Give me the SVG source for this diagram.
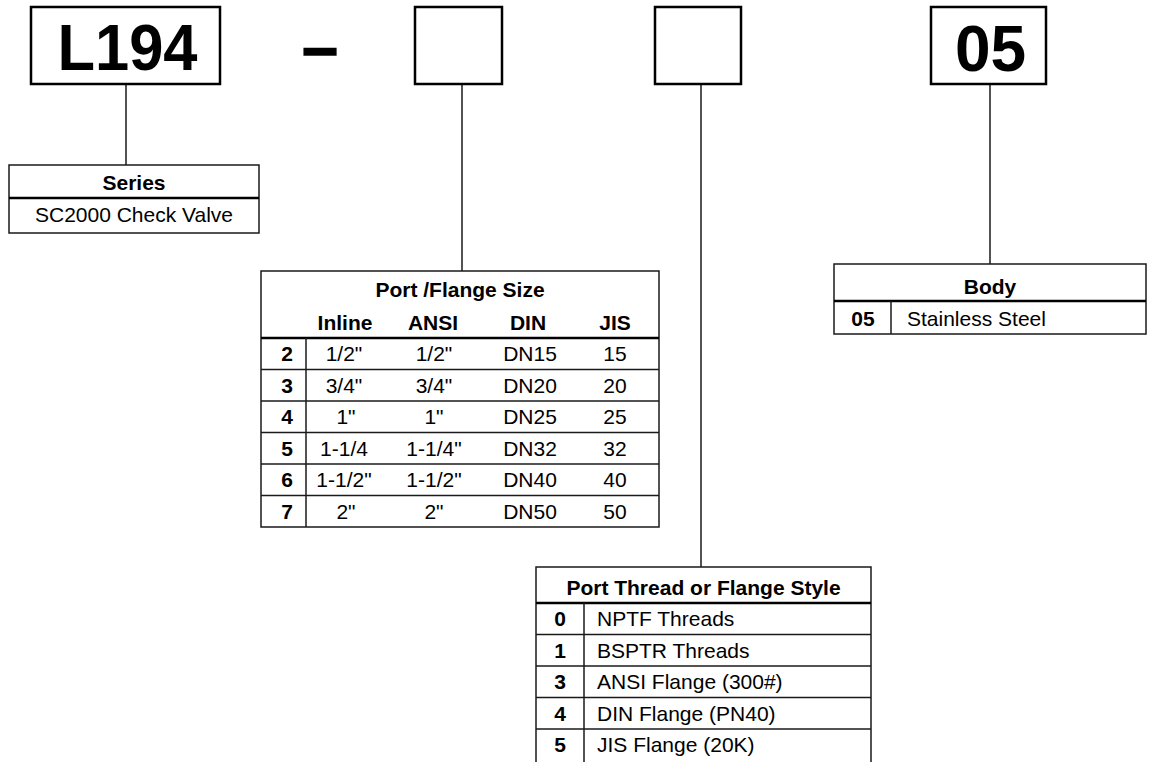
<svg xmlns="http://www.w3.org/2000/svg" width="1149" height="762" viewBox="0 0 1149 762">
<style>
.bg{fill:#fff}
.box{fill:#fff;stroke:#000;stroke-width:2.5}
.tbl{fill:#fff;stroke:#1a1a1a;stroke-width:1.5}
.hdr{stroke:#000;stroke-width:2.5}
.row{stroke:#1a1a1a;stroke-width:1.5}
.con{stroke:#1a1a1a;stroke-width:1.5;fill:none}
text{font-family:"Liberation Sans",Arial,sans-serif;fill:#000}
.big{font-size:64px;font-weight:bold;text-anchor:middle}
.t{font-size:21px}
.b{font-size:21px;font-weight:bold}
.c{text-anchor:middle}
</style>
<rect class="bg" x="0" y="0" width="1149" height="762"/>
<g id="connectors">
<line class="con" x1="126" y1="85" x2="126" y2="165"/>
<line class="con" x1="462" y1="85" x2="462" y2="271"/>
<line class="con" x1="701" y1="85" x2="701" y2="567"/>
<line class="con" x1="990" y1="85" x2="990" y2="264"/>
</g>
<g id="box-l194">
<rect class="box" x="31" y="7" width="189" height="77"/>
<text class="big" x="127.5" y="70" textLength="140" lengthAdjust="spacingAndGlyphs">L194</text>
</g>
<g id="dash">
<text class="big" x="320" y="69" style="stroke:#000;stroke-width:1.5">–</text>
</g>
<g id="box-size">
<rect class="box" x="415" y="7" width="87" height="77"/>
</g>
<g id="box-style">
<rect class="box" x="655" y="7" width="86" height="77"/>
</g>
<g id="box-05">
<rect class="box" x="931" y="7" width="115" height="77"/>
<text class="big" x="990.5" y="70.5">05</text>
</g>
<g id="series">
<rect class="tbl" x="9" y="165" width="250" height="68"/>
<line class="hdr" x1="9" y1="198" x2="259" y2="198"/>
<text class="b c" x="134" y="190">Series</text>
<text class="t c" x="134" y="222">SC2000 Check Valve</text>
</g>
<g id="port-flange-size">
<rect class="tbl" x="261" y="271" width="398" height="256"/>
<line class="hdr" x1="261" y1="338" x2="659" y2="338"/>
<line class="row" x1="261" y1="369.5" x2="659" y2="369.5"/>
<line class="row" x1="261" y1="401" x2="659" y2="401"/>
<line class="row" x1="261" y1="432.5" x2="659" y2="432.5"/>
<line class="row" x1="261" y1="464" x2="659" y2="464"/>
<line class="row" x1="261" y1="495.5" x2="659" y2="495.5"/>
<line class="row" x1="306" y1="338" x2="306" y2="527"/>
<text class="b c" x="460" y="297">Port /Flange Size</text>
<text class="b c" x="345" y="330">Inline</text>
<text class="b c" x="433" y="330">ANSI</text>
<text class="b c" x="528" y="330">DIN</text>
<text class="b c" x="615" y="330">JIS</text>
<g class="c">
<text class="b c" x="287" y="361">2</text><text class="t c" x="344" y="361">1/2"</text><text class="t c" x="434" y="361">1/2"</text><text class="t c" x="530" y="361">DN15</text><text class="t c" x="615" y="361">15</text>
<text class="b c" x="287" y="392.5">3</text><text class="t c" x="344" y="392.5">3/4"</text><text class="t c" x="434" y="392.5">3/4"</text><text class="t c" x="530" y="392.5">DN20</text><text class="t c" x="615" y="392.5">20</text>
<text class="b c" x="287" y="424">4</text><text class="t c" x="346" y="424">1"</text><text class="t c" x="434" y="424">1"</text><text class="t c" x="530" y="424">DN25</text><text class="t c" x="615" y="424">25</text>
<text class="b c" x="287" y="455.5">5</text><text class="t c" x="344" y="455.5">1-1/4</text><text class="t c" x="434" y="455.5">1-1/4"</text><text class="t c" x="530" y="455.5">DN32</text><text class="t c" x="615" y="455.5">32</text>
<text class="b c" x="287" y="487">6</text><text class="t c" x="344" y="487">1-1/2"</text><text class="t c" x="434" y="487">1-1/2"</text><text class="t c" x="530" y="487">DN40</text><text class="t c" x="615" y="487">40</text>
<text class="b c" x="287" y="518.5">7</text><text class="t c" x="346" y="518.5">2"</text><text class="t c" x="434" y="518.5">2"</text><text class="t c" x="530" y="518.5">DN50</text><text class="t c" x="615" y="518.5">50</text>
</g>
</g>
<g id="body">
<rect class="tbl" x="834" y="264" width="312" height="70"/>
<line class="hdr" x1="834" y1="301" x2="1146" y2="301"/>
<line class="row" x1="891" y1="301" x2="891" y2="334"/>
<text class="b c" x="990" y="294">Body</text>
<text class="b c" x="863" y="326">05</text>
<text class="t" x="907" y="326">Stainless Steel</text>
</g>
<g id="port-thread-style">
<rect class="tbl" x="536" y="567" width="335" height="205"/>
<line class="hdr" x1="536" y1="603" x2="871" y2="603"/>
<line class="row" x1="536" y1="634.5" x2="871" y2="634.5"/>
<line class="row" x1="536" y1="666" x2="871" y2="666"/>
<line class="row" x1="536" y1="697.5" x2="871" y2="697.5"/>
<line class="row" x1="536" y1="729" x2="871" y2="729"/>
<line class="row" x1="584" y1="603" x2="584" y2="772"/>
<text class="b c" x="703.5" y="595">Port Thread or Flange Style</text>
<text class="b c" x="560" y="626">0</text><text class="t" x="597" y="626">NPTF Threads</text>
<text class="b c" x="560" y="657.5">1</text><text class="t" x="597" y="657.5">BSPTR Threads</text>
<text class="b c" x="560" y="689">3</text><text class="t" x="597" y="689">ANSI Flange (300#)</text>
<text class="b c" x="560" y="720.5">4</text><text class="t" x="597" y="720.5">DIN Flange (PN40)</text>
<text class="b c" x="560" y="752">5</text><text class="t" x="597" y="752">JIS Flange (20K)</text>
</g>
</svg>
